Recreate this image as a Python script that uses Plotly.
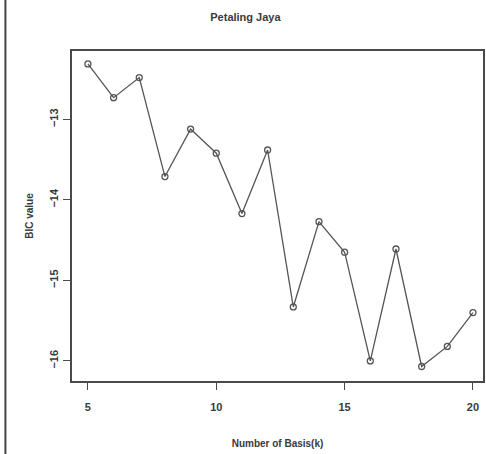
import plotly.graph_objects as go

# Number of basis functions and the BIC obtained for each
k_values = [5, 6, 7, 8, 9, 10, 11, 12, 13, 14, 15, 16, 17, 18, 19, 20]
bic_values = [-12.31, -12.73, -12.48, -13.71, -13.12, -13.42, -14.17, -13.38,
              -15.33, -14.27, -14.65, -16.00, -14.61, -16.07, -15.82, -15.40]

x_ticks = [5, 10, 15, 20]
y_ticks = [-13, -14, -15, -16]

FONT = "Liberation Sans Narrow, Liberation Sans, Arial, sans-serif"
INK = "#4a4a4a"
TEXT = "#3a3a3a"

fig = go.Figure()
fig.add_trace(go.Scatter(
    x=k_values, y=bic_values, mode="lines+markers",
    line=dict(color="#555555", width=1.3),
    marker=dict(symbol="circle-open", size=6, color="#555555", line=dict(width=1.3)),
    showlegend=False, cliponaxis=False,
))

axis_common = dict(
    showgrid=False, zeroline=False, showline=True, mirror=True,
    linecolor=INK, linewidth=1.5, ticks="outside", ticklen=7,
    tickcolor=INK, tickwidth=1.3,
    tickfont=dict(family=FONT, size=11, color=TEXT, weight="bold"),
)

fig.update_layout(
    width=486, height=454,
    margin=dict(l=72, r=1, t=51, b=73),
    paper_bgcolor="white", plot_bgcolor="white",
    title=dict(text="<b>Petaling Jaya</b>", x=0.505, xanchor="center",
               y=0.962, yanchor="middle",
               font=dict(family=FONT, size=11, color=TEXT)),
    xaxis=dict(range=[4.38, 20.39], tickvals=x_ticks, ticklabelstandoff=8,
               title=dict(text="<b>Number of Basis(k)</b>", standoff=28,
                          font=dict(family=FONT, size=10, color=TEXT)),
               **axis_common),
    yaxis=dict(range=[-16.25, -12.15], tickvals=y_ticks, tickangle=-90,
               ticklabelstandoff=1,
               title=dict(text="<b>BIC value</b>", standoff=12,
                          font=dict(family=FONT, size=10, color=TEXT)),
               **axis_common),
    shapes=[dict(type="line", xref="paper", yref="paper",
                 x0=-0.162, x1=-0.162, y0=-0.25, y1=1.2,
                 line=dict(color="#444444", width=2))],
)

fig.write_html("out.html")
